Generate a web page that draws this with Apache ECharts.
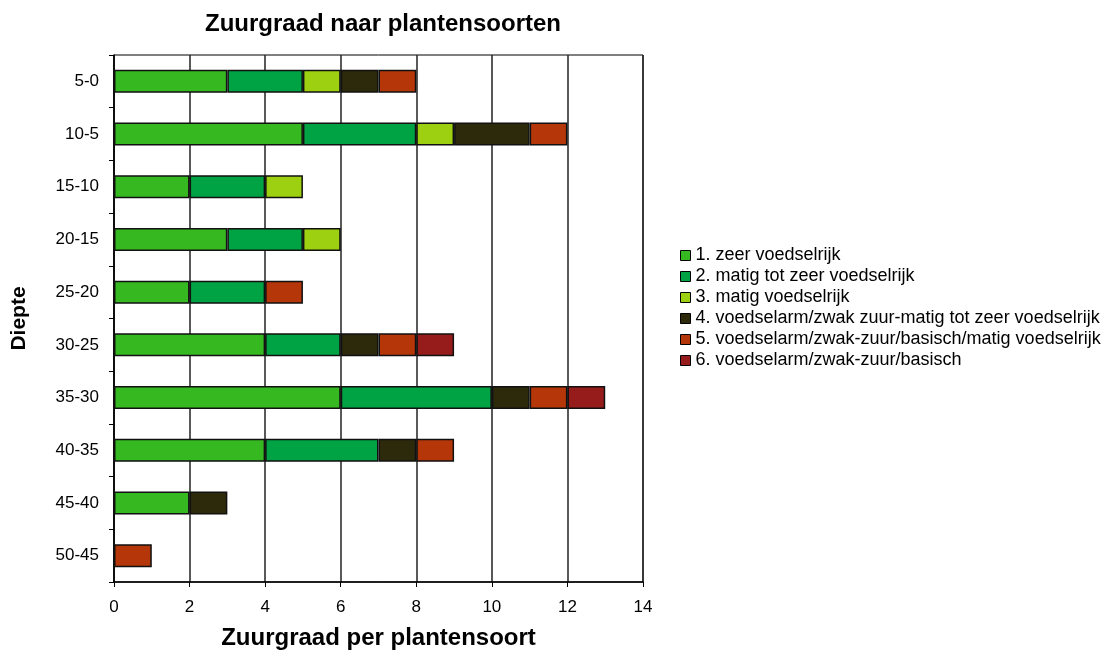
<!DOCTYPE html>
<html>
<head>
<meta charset="utf-8">
<script src="https://cdn.jsdelivr.net/npm/echarts@6/dist/echarts.min.js"></script>
<style>
  html, body { margin: 0; padding: 0; background: #fff; }
  #chart { width: 1119px; height: 655px; }
</style>
</head>
<body>
<div id="chart"></div>
<script>
// diepteklassen (cm), van boven naar beneden
const categories = ['5-0', '10-5', '15-10', '20-15', '25-20', '30-25', '35-30', '40-35', '45-40', '50-45'];

const seriesNames = [
  '1. zeer voedselrijk',
  '2. matig tot zeer voedselrijk',
  '3. matig voedselrijk',
  '4. voedselarm/zwak zuur-matig tot zeer voedselrijk',
  '5. voedselarm/zwak-zuur/basisch/matig voedselrijk',
  '6. voedselarm/zwak-zuur/basisch'
];

// '-' = geen soorten in die klasse
const zeerVoedselrijk      = [3, 5, 2, 3, 2, 4, 6, 4, 2, '-'];
const matigTotZeer         = [2, 3, 2, 2, 2, 2, 4, 3, '-', '-'];
const matigVoedselrijk     = [1, 1, 1, 1, '-', '-', '-', '-', '-', '-'];
const voedselarmZwakZuur   = [1, 2, '-', '-', '-', 1, 1, 1, 1, '-'];
const voedselarmBasischMatig = [1, 1, '-', '-', 1, 1, 1, 1, '-', 1];
const voedselarmBasisch    = ['-', '-', '-', '-', '-', 1, 1, '-', '-', '-'];

const xTicks = { min: 0, max: 14, interval: 2 };

const colors = ['#36b820', '#00a344', '#9dd010', '#2d2a0c', '#b53608', '#951c1a'];
const allData = [zeerVoedselrijk, matigTotZeer, matigVoedselrijk, voedselarmZwakZuur, voedselarmBasischMatig, voedselarmBasisch];

const font = 'Liberation Sans, Arial, sans-serif';

const chart = echarts.init(document.getElementById('chart'));
chart.setOption({
  animation: false,
  color: colors,
  title: {
    text: 'Zuurgraad naar plantensoorten',
    left: 378,
    textAlign: 'center',
    top: 7,
    textStyle: { fontFamily: font, fontSize: 24, fontWeight: 'bold', color: '#000' }
  },
  legend: {
    orient: 'vertical',
    left: 675,
    top: 240,
    itemWidth: 10,
    itemHeight: 10,
    itemGap: 0,
    icon: 'rect',
    selectedMode: false,
    data: seriesNames,
    itemStyle: { borderColor: '#000', borderWidth: 1 },
    textStyle: { fontFamily: font, fontSize: 18, color: '#000', lineHeight: 21 }
  },
  grid: {
    left: 114,
    top: 55,
    width: 529,
    height: 529,
    show: true,
    borderColor: '#000',
    borderWidth: 1
  },
  xAxis: {
    type: 'value',
    min: xTicks.min,
    max: xTicks.max,
    interval: xTicks.interval,
    name: 'Zuurgraad per plantensoort',
    nameLocation: 'middle',
    nameGap: 44,
    nameTextStyle: { fontFamily: font, fontSize: 24, fontWeight: 'bold', color: '#000' },
    axisLine: { show: true, lineStyle: { color: '#000', width: 1.5 } },
    axisTick: { show: true, length: 5, lineStyle: { color: '#000' } },
    axisLabel: { fontFamily: font, fontSize: 17, color: '#000', margin: 17 },
    splitLine: { show: true, lineStyle: { color: '#222', width: 1.5 } }
  },
  yAxis: {
    type: 'category',
    inverse: true,
    data: categories,
    name: 'Diepte',
    nameLocation: 'middle',
    nameGap: 84,
    nameTextStyle: { fontFamily: font, fontSize: 21, fontWeight: 'bold', color: '#000' },
    axisLine: { show: true, lineStyle: { color: '#000', width: 1.5 } },
    axisTick: { show: true, length: 5, lineStyle: { color: '#000' } },
    axisLabel: { fontFamily: font, fontSize: 17, color: '#000', margin: 15 },
    splitLine: { show: false }
  },
  series: seriesNames.map((name, i) => ({
    name: name,
    type: 'bar',
    stack: 'totaal',
    barWidth: 23,
    data: allData[i],
    itemStyle: { color: colors[i], borderColor: '#111', borderWidth: 1.5 }
  }))
});
</script>
</body>
</html>
